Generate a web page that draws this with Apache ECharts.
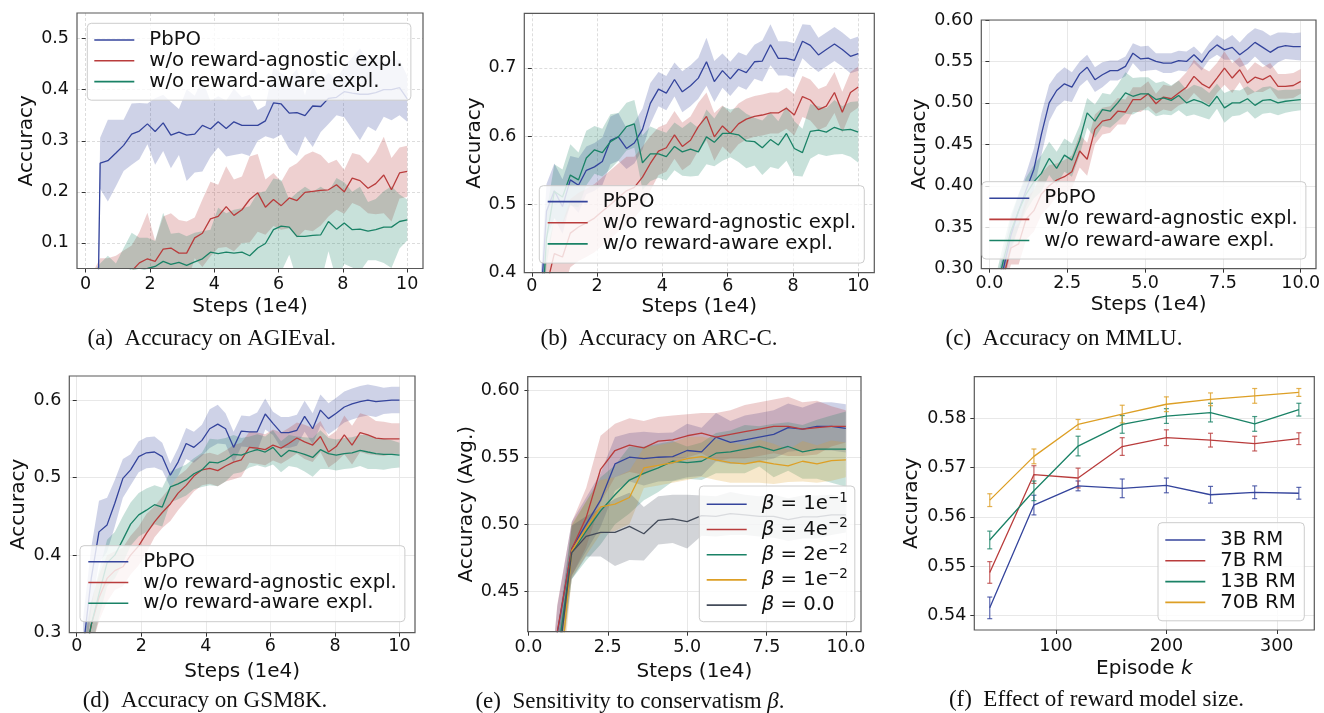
<!DOCTYPE html>
<html><head><meta charset="utf-8">
<script src="https://cdn.jsdelivr.net/npm/echarts@6/dist/echarts.min.js"></script>
<style>html,body{margin:0;padding:0;background:#fff;}#c{width:1324px;height:713px;}</style>
</head><body><div id="c"></div>
<script>
// ---------------- DATA ----------------
const stepsAD = [0.2,0.45,0.69,0.94,1.18,1.43,1.67,1.92,2.16,2.41,2.65,2.9,3.14,3.39,3.63,3.88,4.12,4.37,4.61,4.86,5.1,5.35,5.59,5.84,6.08,6.33,6.57,6.82,7.06,7.31,7.55,7.8,8.04,8.29,8.53,8.78,9.02,9.27,9.51,9.76,10.0];
const stepsE = [0.455,0.909,1.364,1.818,2.273,2.727,3.182,3.636,4.091,4.545,5.0,5.455,5.909,6.364,6.818,7.273,7.727,8.182,8.636,9.091,9.545,10.0];
const episodes = [40,80,120,160,200,240,280,320];

const methodNames = ['PbPO','w/o reward-agnostic expl.','w/o reward-aware expl.'];

// (a) AGIEval
const aPbPO = [-0.8,0.256,0.261,0.276,0.291,0.313,0.319,0.333,0.318,0.335,0.311,0.317,0.311,0.313,0.330,0.323,0.337,0.324,0.337,0.330,0.330,0.330,0.339,0.374,0.372,0.354,0.355,0.349,0.368,0.367,0.383,0.385,0.396,0.393,0.391,0.391,0.394,0.400,0.400,0.404,0.382];
const aPbPOsd = [0.05,0.05,0.08,0.065,0.05,0.06,0.055,0.04,0.065,0.055,0.065,0.045,0.09,0.075,0.09,0.055,0.05,0.055,0.065,0.055,0.06,0.03,0.03,0.07,0.06,0.07,0.085,0.04,0.08,0.05,0.05,0.035,0.05,0.07,0.09,0.063,0.075,0.053,0.06,0.054,0.045];
const aAgn = [0.0,0.03,0.03,0.035,0.04,0.045,0.061,0.069,0.064,0.088,0.090,0.080,0.080,0.110,0.119,0.147,0.152,0.171,0.154,0.165,0.185,0.198,0.170,0.185,0.173,0.188,0.183,0.199,0.201,0.203,0.204,0.214,0.200,0.227,0.222,0.207,0.216,0.233,0.204,0.237,0.240];
const aAgnSd = [0.04,0.04,0.04,0.04,0.045,0.05,0.06,0.09,0.04,0.064,0.068,0.065,0.062,0.04,0.066,0.073,0.062,0.079,0.07,0.065,0.084,0.076,0.054,0.052,0.047,0.059,0.073,0.073,0.078,0.069,0.052,0.049,0.043,0.049,0.05,0.049,0.06,0.075,0.062,0.05,0.05];
const aAwr = [0.0,0.02,0.03,0.03,0.035,0.05,0.045,0.05,0.054,0.064,0.058,0.062,0.056,0.063,0.069,0.082,0.079,0.082,0.080,0.082,0.075,0.090,0.099,0.126,0.133,0.131,0.113,0.113,0.115,0.116,0.142,0.127,0.139,0.126,0.127,0.123,0.126,0.131,0.131,0.142,0.145];
const aAwrSd = [0.04,0.04,0.045,0.03,0.055,0.07,0.065,0.06,0.05,0.095,0.06,0.058,0.057,0.057,0.054,0.044,0.09,0.076,0.085,0.086,0.097,0.108,0.102,0.1,0.09,0.054,0.085,0.097,0.085,0.094,0.058,0.1,0.08,0.074,0.083,0.057,0.06,0.07,0.08,0.053,0.04];

// (b) ARC-C
const bPbPO = [0.30,0.49,0.52,0.497,0.536,0.528,0.55,0.555,0.563,0.594,0.599,0.582,0.590,0.610,0.648,0.669,0.663,0.683,0.665,0.674,0.685,0.709,0.680,0.696,0.684,0.698,0.693,0.709,0.710,0.734,0.714,0.714,0.711,0.739,0.733,0.719,0.727,0.735,0.727,0.717,0.721];
const bPbPOsd = [0.04,0.04,0.04,0.04,0.035,0.04,0.035,0.035,0.035,0.035,0.035,0.03,0.03,0.03,0.03,0.025,0.025,0.025,0.03,0.03,0.03,0.035,0.03,0.025,0.025,0.025,0.025,0.025,0.03,0.03,0.025,0.025,0.025,0.025,0.03,0.025,0.025,0.025,0.025,0.025,0.025];
const bAgn = [0.30,0.38,0.428,0.423,0.458,0.467,0.473,0.48,0.49,0.50,0.51,0.52,0.525,0.54,0.56,0.578,0.583,0.602,0.585,0.594,0.614,0.629,0.599,0.615,0.604,0.618,0.625,0.629,0.631,0.634,0.634,0.641,0.631,0.658,0.653,0.639,0.644,0.664,0.635,0.664,0.672];
const bAgnSd = [0.05,0.05,0.05,0.05,0.05,0.05,0.05,0.05,0.05,0.05,0.05,0.05,0.045,0.045,0.04,0.035,0.035,0.035,0.035,0.035,0.035,0.035,0.035,0.03,0.03,0.03,0.03,0.03,0.03,0.03,0.03,0.03,0.03,0.03,0.03,0.03,0.03,0.03,0.03,0.03,0.03];
const bAwr = [0.25,0.45,0.519,0.511,0.543,0.536,0.568,0.580,0.576,0.592,0.599,0.614,0.618,0.561,0.574,0.574,0.570,0.585,0.577,0.581,0.577,0.599,0.591,0.604,0.604,0.602,0.593,0.592,0.583,0.595,0.587,0.604,0.582,0.576,0.607,0.609,0.606,0.613,0.609,0.610,0.606];
const bAwrSd = [0.04,0.04,0.04,0.04,0.045,0.04,0.04,0.035,0.035,0.04,0.035,0.035,0.035,0.04,0.04,0.035,0.035,0.035,0.035,0.04,0.035,0.04,0.035,0.04,0.035,0.04,0.04,0.035,0.04,0.04,0.035,0.04,0.04,0.035,0.04,0.035,0.035,0.04,0.035,0.04,0.045];

// (c) MMLU
const cPbPO = [0.26,0.30,0.34,0.37,0.395,0.42,0.462,0.50,0.515,0.523,0.519,0.535,0.543,0.528,0.534,0.539,0.539,0.544,0.560,0.553,0.554,0.550,0.548,0.548,0.551,0.550,0.558,0.549,0.562,0.570,0.564,0.567,0.558,0.565,0.573,0.567,0.561,0.567,0.569,0.568,0.568];
const cPbPOsd = [0.02,0.02,0.02,0.02,0.02,0.025,0.025,0.022,0.02,0.02,0.018,0.015,0.015,0.015,0.015,0.012,0.012,0.012,0.012,0.015,0.015,0.01,0.012,0.012,0.012,0.012,0.01,0.01,0.01,0.012,0.012,0.015,0.015,0.018,0.017,0.02,0.02,0.018,0.016,0.016,0.017];
const cAgn = [0.25,0.29,0.325,0.33,0.36,0.37,0.39,0.40,0.407,0.411,0.417,0.442,0.432,0.468,0.478,0.480,0.490,0.489,0.504,0.504,0.511,0.499,0.507,0.505,0.512,0.519,0.532,0.523,0.518,0.530,0.542,0.530,0.540,0.524,0.531,0.528,0.533,0.520,0.520,0.521,0.526];
const cAgnSd = [0.02,0.02,0.02,0.025,0.025,0.025,0.025,0.025,0.02,0.02,0.02,0.02,0.02,0.018,0.016,0.016,0.016,0.015,0.015,0.015,0.015,0.012,0.015,0.015,0.015,0.018,0.02,0.02,0.02,0.018,0.02,0.018,0.015,0.015,0.018,0.015,0.015,0.015,0.015,0.015,0.015];
const cAwr = [0.27,0.31,0.345,0.37,0.39,0.405,0.415,0.433,0.421,0.437,0.431,0.455,0.488,0.478,0.492,0.490,0.500,0.512,0.508,0.511,0.511,0.504,0.506,0.503,0.509,0.500,0.504,0.501,0.496,0.508,0.494,0.500,0.500,0.505,0.497,0.503,0.504,0.500,0.502,0.503,0.504];
const cAwrSd = [0.02,0.02,0.02,0.02,0.02,0.02,0.022,0.02,0.02,0.02,0.02,0.018,0.018,0.02,0.02,0.02,0.022,0.025,0.022,0.02,0.02,0.02,0.02,0.018,0.018,0.016,0.018,0.018,0.016,0.015,0.018,0.016,0.015,0.015,0.016,0.016,0.016,0.015,0.014,0.013,0.013];

// (d) GSM8K
const dPbPO = [0.28,0.37,0.430,0.439,0.467,0.499,0.510,0.527,0.532,0.533,0.527,0.503,0.52,0.544,0.539,0.548,0.563,0.569,0.563,0.539,0.560,0.559,0.559,0.582,0.570,0.558,0.558,0.561,0.579,0.563,0.587,0.576,0.583,0.591,0.595,0.598,0.600,0.598,0.599,0.600,0.600];
const dPbPOsd = [0.04,0.04,0.04,0.035,0.03,0.025,0.02,0.02,0.02,0.02,0.018,0.015,0.018,0.02,0.02,0.02,0.025,0.025,0.02,0.02,0.02,0.02,0.025,0.02,0.015,0.02,0.02,0.02,0.02,0.02,0.02,0.02,0.02,0.02,0.02,0.02,0.02,0.02,0.017,0.017,0.017];
const dAgn = [0.25,0.31,0.345,0.37,0.38,0.385,0.40,0.412,0.428,0.443,0.455,0.466,0.48,0.49,0.502,0.51,0.512,0.509,0.515,0.520,0.523,0.539,0.538,0.536,0.542,0.538,0.544,0.551,0.546,0.542,0.553,0.533,0.540,0.555,0.542,0.558,0.555,0.551,0.550,0.550,0.550];
const dAgnSd = [0.03,0.03,0.03,0.03,0.025,0.025,0.025,0.025,0.025,0.02,0.02,0.022,0.022,0.02,0.02,0.02,0.02,0.02,0.02,0.022,0.022,0.02,0.02,0.02,0.02,0.02,0.02,0.02,0.022,0.022,0.02,0.02,0.02,0.025,0.025,0.025,0.025,0.022,0.022,0.02,0.02];
const dAwr = [0.26,0.31,0.35,0.39,0.40,0.42,0.44,0.452,0.458,0.465,0.462,0.488,0.492,0.497,0.505,0.51,0.52,0.519,0.523,0.53,0.529,0.533,0.536,0.533,0.539,0.527,0.535,0.533,0.530,0.526,0.536,0.531,0.529,0.531,0.532,0.535,0.533,0.531,0.530,0.530,0.529];
const dAwrSd = [0.03,0.03,0.03,0.03,0.03,0.03,0.028,0.028,0.028,0.025,0.025,0.02,0.02,0.02,0.02,0.022,0.03,0.03,0.028,0.025,0.022,0.02,0.02,0.02,0.022,0.02,0.02,0.02,0.022,0.025,0.025,0.02,0.02,0.02,0.02,0.02,0.022,0.02,0.02,0.018,0.016];

// (e) sensitivity to beta
const betaNames = ['β = 1e-1','β = 4e-2','β = 2e-2','β = 1e-2','β = 0.0'];
const betaMant = ['1e','4e','2e','1e','0.0'];
const betaExp = ['−1','−2','−2','−2',''];
const eB1 = [0.30,0.419,0.482,0.500,0.518,0.545,0.550,0.549,0.550,0.5505,0.555,0.554,0.565,0.561,0.563,0.565,0.567,0.572,0.571,0.573,0.573,0.5715];
const eB1sd = [0.02,0.02,0.02,0.02,0.02,0.02,0.018,0.02,0.018,0.018,0.02,0.018,0.018,0.016,0.018,0.018,0.018,0.018,0.016,0.018,0.018,0.018];
const eB4 = [0.30,0.42,0.4815,0.505,0.541,0.555,0.559,0.557,0.562,0.563,0.566,0.568,0.565,0.567,0.569,0.571,0.573,0.573,0.571,0.572,0.573,0.573];
const eB4sd = [0.02,0.02,0.02,0.022,0.025,0.02,0.02,0.02,0.018,0.018,0.016,0.015,0.018,0.018,0.02,0.02,0.02,0.022,0.02,0.02,0.015,0.012];
const eB2 = [0.28,0.40,0.479,0.495,0.510,0.522,0.533,0.538,0.542,0.547,0.546,0.547,0.553,0.554,0.556,0.558,0.555,0.558,0.554,0.556,0.556,0.556];
const eB2sd = [0.02,0.02,0.02,0.022,0.025,0.022,0.025,0.02,0.018,0.015,0.012,0.014,0.015,0.016,0.018,0.015,0.02,0.018,0.02,0.022,0.025,0.028];
const eB1e2 = [0.27,0.364,0.480,0.497,0.513,0.515,0.520,0.542,0.544,0.546,0.549,0.5505,0.548,0.546,0.545,0.547,0.545,0.5435,0.547,0.545,0.5475,0.548];
const eB1e2sd = [0.02,0.02,0.02,0.02,0.02,0.02,0.02,0.015,0.015,0.015,0.016,0.015,0.015,0.015,0.014,0.016,0.015,0.012,0.015,0.014,0.015,0.013];
const eB0 = [0.29,0.39,0.479,0.491,0.494,0.494,0.4985,0.493,0.503,0.504,0.502,0.5065,0.506,0.508,0.507,0.506,0.506,0.5035,0.5055,0.5055,0.507,0.507];
const eB0sd = [0.02,0.02,0.02,0.015,0.018,0.025,0.025,0.02,0.018,0.018,0.02,0.015,0.015,0.016,0.015,0.015,0.016,0.016,0.016,0.016,0.015,0.013];

// (f) reward model size
const rmNames = ['3B RM','7B RM','13B RM','70B RM'];
const f3B = [0.5415,0.5624,0.5663,0.5658,0.5664,0.5645,0.5650,0.5648];
const f3Berr = [0.0022,0.002,0.001,0.0019,0.0015,0.0017,0.0013,0.0012];
const f7B = [0.5487,0.5686,0.5679,0.5743,0.5761,0.5756,0.5749,0.5759];
const f7Berr = [0.0022,0.0018,0.002,0.0018,0.0016,0.0014,0.0015,0.0012];
const f13B = [0.5553,0.5653,0.5744,0.5788,0.5805,0.5812,0.5789,0.5818];
const f13Berr = [0.0018,0.002,0.002,0.0018,0.0015,0.0019,0.0015,0.0013];
const f70B = [0.5634,0.5723,0.5788,0.5809,0.5829,0.5839,0.5846,0.5853];
const f70Berr = [0.0013,0.0015,0.001,0.0018,0.0015,0.0013,0.0015,0.0008];

// tick values
const xTicksAD = [0,2,4,6,8,10];
const xTicksCE = [0,2.5,5,7.5,10];
const xTicksF = [100,200,300];
const yTicksA = [0.1,0.2,0.3,0.4,0.5];
const yTicksB = [0.4,0.5,0.6,0.7];
const yTicksC = [0.30,0.35,0.40,0.45,0.50,0.55,0.60];
const yTicksD = [0.3,0.4,0.5,0.6];
const yTicksE = [0.45,0.50,0.55,0.60];
const yTicksF = [0.54,0.55,0.56,0.57,0.58];

const captions = ['(a)  Accuracy on AGIEval.','(b)  Accuracy on ARC-C.','(c)  Accuracy on MMLU.','(d)  Accuracy on GSM8K.','(e)  Sensitivity to conservatism {i|β}.','(f)  Effect of reward model size.'];

// ---------------- STYLE / LAYOUT ----------------
const FONT = "'DejaVu Sans', sans-serif";
const SERIF = "'Liberation Serif', 'Times New Roman', serif";
const BLUE = '#34449c', RED = '#b93c3c', GREEN = '#1a8266', ORANGE = '#dd9f25', GRAY = '#434b5a';
const TICK_FS = 17.5, NAME_FS = 20, LEG_FS = 19.7, CAP_FS = 23;

const panels = [
  {g:[77,13,346,255.5], x:[-0.27,10.49], y:[0.05,0.55], xt:xTicksAD, yt:yTicksA, xd:0, yd:1, dash:true, yn:'Accuracy', yg:40.3, xn:'Steps (1e4)', xg:28.2, xm:7.5},
  {g:[524.3,13.3,350,259.4], x:[-0.23,10.49], y:[0.4,0.78], xt:xTicksAD, yt:yTicksB, xd:0, yd:1, dash:true, yn:'Accuracy', yg:40, xn:'Steps (1e4)', xg:23, xm:5},
  {g:[981.3,20,334.7,248.7], x:[-0.26,10.49], y:[0.30,0.60], xt:xTicksCE, yt:yTicksC, xd:1, yd:2, dash:false, yn:'Accuracy', yg:52, xn:'Steps (1e4)', xg:26.3, xm:6},
  {g:[69.3,376,345.7,256.7], x:[-0.23,10.48], y:[0.30,0.631], xt:xTicksAD, yt:yTicksD, xd:0, yd:1, dash:false, yn:'Accuracy', yg:41, xn:'Steps (1e4)', xg:29, xm:5.5},
  {g:[527.7,376.7,333.3,255], x:[-0.023,10.477], y:[0.42,0.61], xt:xTicksCE, yt:yTicksE, xd:1, yd:2, dash:false, yn:'Accuracy (Avg.)', yg:48.4, xn:'Steps (1e4)', xg:30, xm:7},
  {g:[974.3,376.7,340,253.3], x:[26,334], y:[0.537,0.5885], xt:xTicksF, yt:yTicksF, xd:0, yd:2, dash:false, yn:'Accuracy', yg:53, xn:'{n|Episode }{i|k}', xg:28.3, xm:8}
];
const capPos = [[211.7,339],[659,339],[1064,339],[205,700.5],[630,701.5],[1096.5,700]];

const grids = [], xAxes = [], yAxes = [];
panels.forEach((p, i) => {
  grids.push({left:p.g[0], top:p.g[1], width:p.g[2], height:p.g[3], show:true, z:4, borderColor:'#585858', borderWidth:1.2, backgroundColor:'rgba(0,0,0,0)', containLabel:false, outerBoundsMode:'none'});
  const split = {show:true, lineStyle:{color: p.dash ? '#dddddd' : '#e8e8e8', width:1, type: p.dash ? [3,2] : 'solid'}};
  const nameStyle = {fontSize:NAME_FS, fontFamily:FONT, color:'#111', lineHeight:NAME_FS,
    rich:{n:{fontSize:NAME_FS, fontFamily:FONT, color:'#111'}, i:{fontSize:NAME_FS, fontFamily:FONT, fontStyle:'italic', color:'#111'}}};
  xAxes.push({type:'value', gridIndex:i, min:p.x[0], max:p.x[1], position:'bottom',
    axisLine:{show:false},
    axisTick:{show:true, inside:false, length:4, lineStyle:{color:'#333', width:1}, customValues:p.xt},
    axisLabel:{show:true, customValues:p.xt, formatter:(v)=>Number(v).toFixed(p.xd), fontSize:TICK_FS, fontFamily:FONT, color:'#111', margin:p.xm, lineHeight:TICK_FS, hideOverlap:false},
    splitLine:split,
    name:p.xn, nameLocation:'middle', nameGap:p.xg, nameTextStyle:nameStyle});
  yAxes.push({type:'value', gridIndex:i, min:p.y[0], max:p.y[1], position:'left',
    axisLine:{show:false},
    axisTick:{show:true, inside:false, length:4, lineStyle:{color:'#333', width:1}, customValues:p.yt},
    axisLabel:{show:true, customValues:p.yt, formatter:(v)=>Number(v).toFixed(p.yd), fontSize:TICK_FS, fontFamily:FONT, color:'#111', margin:8, hideOverlap:false},
    splitLine:split,
    name:p.yn, nameLocation:'middle', nameGap:p.yg, nameRotate:90, nameTextStyle:nameStyle});
});

const series = [];
function band(gi, name, xs, ys, sd, color) {
  const pts = xs.map((x, k) => [x, ys[k] - sd[k], ys[k] + sd[k]]);
  series.push({type:'custom', name:name + ' (band)', xAxisIndex:gi, yAxisIndex:gi, clip:true, silent:true, z:1,
    data:pts, encode:{x:0, y:[1,2]},
    renderItem:(params, api) => {
      if (params.dataIndex !== 0) return null;
      const lo = pts.map(q => api.coord([q[0], q[1]]));
      const hi = pts.map(q => api.coord([q[0], q[2]])).reverse();
      return {type:'polygon', shape:{points:lo.concat(hi)}, style:{fill:color, opacity:0.24}};
    }});
}
function line(gi, name, xs, ys, color) {
  series.push({type:'line', name, xAxisIndex:gi, yAxisIndex:gi, data:xs.map((x, k) => [x, ys[k]]),
    symbol:'none', showSymbol:false, color, lineStyle:{width:1.3, color}, z:3, silent:true, clip:true});
}
function errbars(gi, name, xs, ys, es, color) {
  series.push({type:'custom', name:name + ' (err)', xAxisIndex:gi, yAxisIndex:gi, silent:true, z:2,
    data:xs.map((x, k) => [x, ys[k], es[k]]), encode:{x:0, y:1},
    renderItem:(params, api) => {
      const x = api.value(0), y = api.value(1), e = api.value(2);
      const t = api.coord([x, y + e]), b = api.coord([x, y - e]);
      const st = {stroke:color, lineWidth:1.2, opacity:0.8};
      return {type:'group', children:[
        {type:'line', shape:{x1:t[0], y1:t[1], x2:b[0], y2:b[1]}, style:st},
        {type:'line', shape:{x1:t[0]-2.5, y1:t[1], x2:t[0]+2.5, y2:t[1]}, style:st},
        {type:'line', shape:{x1:b[0]-2.5, y1:b[1], x2:b[0]+2.5, y2:b[1]}, style:st}
      ]};
    }});
}

const methodSets = [
  [[aPbPO,aPbPOsd],[aAgn,aAgnSd],[aAwr,aAwrSd]],
  [[bPbPO,bPbPOsd],[bAgn,bAgnSd],[bAwr,bAwrSd]],
  [[cPbPO,cPbPOsd],[cAgn,cAgnSd],[cAwr,cAwrSd]],
  [[dPbPO,dPbPOsd],[dAgn,dAgnSd],[dAwr,dAwrSd]]
];
const methodColors = [BLUE, RED, GREEN];
methodSets.forEach((set, gi) => set.forEach((s, k) => band(gi, methodNames[k] + gi, stepsAD, s[0], s[1], methodColors[k])));
methodSets.forEach((set, gi) => set.forEach((s, k) => line(gi, methodNames[k], stepsAD, s[0], methodColors[k])));

const betaSets = [[eB1,eB1sd],[eB4,eB4sd],[eB2,eB2sd],[eB1e2,eB1e2sd],[eB0,eB0sd]];
const betaColors = [BLUE, RED, GREEN, ORANGE, GRAY];
betaSets.forEach((s, k) => band(4, betaNames[k], stepsE, s[0], s[1], betaColors[k]));
betaSets.forEach((s, k) => line(4, betaNames[k], stepsE, s[0], betaColors[k]));

const rmSets = [[f3B,f3Berr],[f7B,f7Berr],[f13B,f13Berr],[f70B,f70Berr]];
const rmColors = [BLUE, RED, GREEN, ORANGE];
rmSets.forEach((s, k) => errbars(5, rmNames[k], episodes, s[0], s[1], rmColors[k]));
rmSets.forEach((s, k) => line(5, rmNames[k], episodes, s[0], rmColors[k]));

// legends
function legend(names, left, top, pad, lh, extra) {
  return Object.assign({orient:'vertical', align:'left', left, top, padding:pad, data:names, icon:'rect',
    itemWidth:40, itemHeight:1.6, itemGap:0, selectedMode:false, z:6,
    backgroundColor:'rgba(255,255,255,0.8)', borderColor:'#cccccc', borderWidth:1, borderRadius:4,
    itemStyle:{borderWidth:0},
    textStyle:{fontSize:LEG_FS, fontFamily:FONT, color:'#111', lineHeight:lh, padding:[0,0,0,10]}}, extra || {});
}
const betaRich = {};
betaNames.forEach((n, k) => {
  betaRich[n] = '{i|β}{n| = ' + betaMant[k] + '}' + (betaExp[k] ? '{s|' + betaExp[k] + '}' : '');
});
const legends = [
  legend(methodNames, 87.3, 23.3, [6.3,8,8.2,7], 20.8),
  legend(methodNames, 539.3, 185.7, [5.4,8,8.7,8.4], 21.1),
  legend(methodNames, 982, 181.7, [6,8,8,7.3], 21.1),
  legend(methodNames, 80, 545.7, [5.6,8,8,8.3], 20.8),
  legend(betaNames, 699.3, 486, [5.7,7,4,7.4], 25.2, {
    formatter:(n) => betaRich[n],
    textStyle:{fontSize:LEG_FS, fontFamily:FONT, color:'#111', lineHeight:25.2, padding:[0,0,0,10],
      rich:{i:{fontSize:LEG_FS, fontFamily:FONT, fontStyle:'italic', color:'#111', lineHeight:25.2},
            n:{fontSize:LEG_FS, fontFamily:FONT, color:'#111', lineHeight:25.2},
            s:{fontSize:13.5, fontFamily:FONT, color:'#111', lineHeight:13.5, verticalAlign:'top'}}}}),
  legend(rmNames, 1158, 522.7, [6.9,8.5,8,7.3], 20.8)
];

const graphic = captions.map((t, k) => ({type:'text', x:capPos[k][0], y:capPos[k][1], silent:true,
  style:{text:t, fontSize:CAP_FS, fontFamily:SERIF, fill:'#111', align:'center', verticalAlign:'middle',
    textAlign:'center', textVerticalAlign:'middle',
    rich:{i:{fontSize:CAP_FS, fontFamily:SERIF, fontStyle:'italic', fill:'#111', color:'#111'}}}}));

const chart = echarts.init(document.getElementById('c'), null, {renderer:'canvas', width:1324, height:713});
chart.setOption({
  animation:false, backgroundColor:'#ffffff',
  grid:grids, xAxis:xAxes, yAxis:yAxes, series, legend:legends, graphic
});
</script></body></html>
